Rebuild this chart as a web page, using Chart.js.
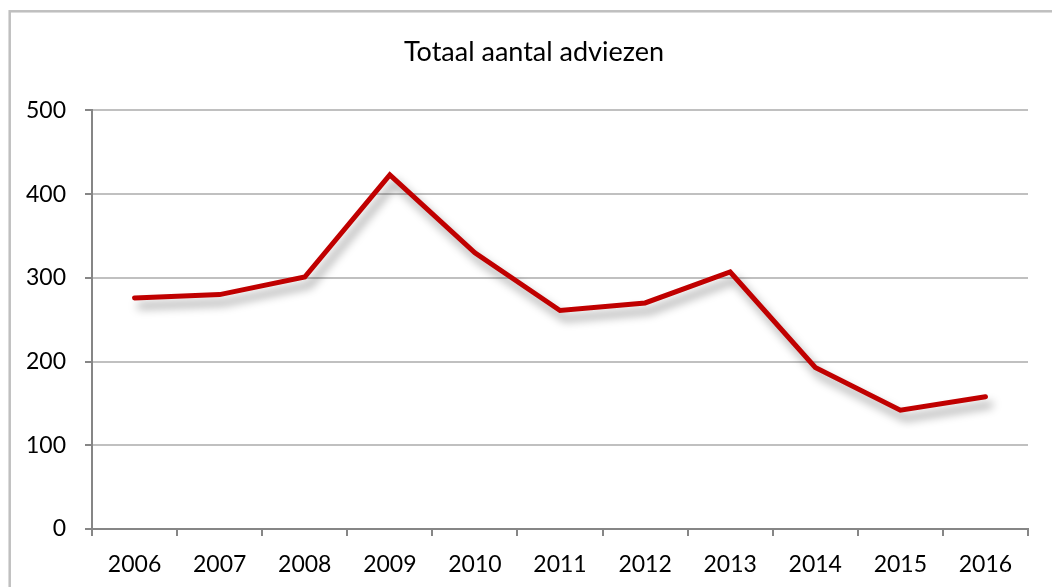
<!DOCTYPE html>
<html>
<head>
<meta charset="utf-8">
<script src="https://cdn.jsdelivr.net/npm/chart.js"></script>
<style>
  body { margin: 0; background: #fff; }
  #wrap { width: 1052px; height: 587px; }
</style>
</head>
<body>
<div id="wrap"><canvas id="chart" width="1052" height="587"></canvas></div>
<script>
// Data
const years = ["2006", "2007", "2008", "2009", "2010", "2011", "2012", "2013", "2014", "2015", "2016"];
const adviezen = [276, 280, 301, 423, 330, 261, 270, 307, 193, 142, 158];
const chartTitle = "Totaal aantal adviezen";

const FONT = "Lato, 'Liberation Sans', sans-serif";

// Excel-like frame around the whole chart, title centred on the frame
const framePlugin = {
    id: "frame",
    afterLayout(chart) {
        if (chart.titleBlock) chart.titleBlock.left = 40;
    },
    beforeDraw(chart) {
        const ctx = chart.ctx;
        ctx.save();
        ctx.fillStyle = "#fff";
        ctx.fillRect(0, 0, chart.width, chart.height);
        ctx.strokeStyle = "#bfbfbf";
        ctx.lineWidth = 2.5;
        ctx.strokeRect(9.7, 11.3, chart.width + 50, chart.height + 50);
        ctx.restore();
    }
};

// Soft drop shadow under the line
const shadowPlugin = {
    id: "lineShadow",
    beforeDatasetDraw(chart) {
        const ctx = chart.ctx;
        ctx.save();
        ctx.shadowColor = "rgba(0, 0, 0, 0.4)";
        ctx.shadowBlur = 10;
        ctx.shadowOffsetX = 5;
        ctx.shadowOffsetY = 8;
    },
    afterDatasetDraw(chart) {
        chart.ctx.restore();
    }
};

new Chart(document.getElementById("chart").getContext("2d"), {
    type: "line",
    data: {
        labels: years,
        datasets: [{
            label: chartTitle,
            data: adviezen,
            borderColor: "#c00000",
            borderWidth: 5,
            borderCapStyle: "round",
            borderJoinStyle: "miter",
            pointRadius: 0,
            tension: 0,
            fill: false
        }]
    },
    options: {
        responsive: false,
        animation: false,
        devicePixelRatio: 1,
        layout: { padding: { left: 0, right: 24, top: 0, bottom: 0 } },
        plugins: {
            legend: { display: false },
            tooltip: { enabled: false },
            title: {
                display: true,
                text: chartTitle,
                color: "#000",
                font: { family: FONT, size: 27, weight: "normal" },
                padding: { top: 36, bottom: 42 }
            }
        },
        scales: {
            x: {
                offset: true,
                grid: {
                    offset: true,
                    drawOnChartArea: false,
                    drawTicks: true,
                    tickLength: 7,
                    tickColor: "#868686",
                    lineWidth: 2
                },
                border: { color: "#868686", width: 2 },
                ticks: {
                    color: "#000",
                    padding: 15,
                    maxRotation: 0,
                    font: { family: FONT, size: 23 }
                },
                afterFit(scale) { scale.height = 58; }
            },
            y: {
                min: 0,
                max: 500,
                ticks: {
                    stepSize: 100,
                    color: "#000",
                    padding: 19,
                    font: { family: FONT, size: 23 }
                },
                grid: {
                    color: "#c0c0c0",
                    lineWidth: 2,
                    tickLength: 7,
                    tickColor: "#868686"
                },
                border: { color: "#868686", width: 2 },
                afterFit(scale) { scale.width = 92; }
            }
        }
    },
    plugins: [framePlugin, shadowPlugin]
});
</script>
</body>
</html>
